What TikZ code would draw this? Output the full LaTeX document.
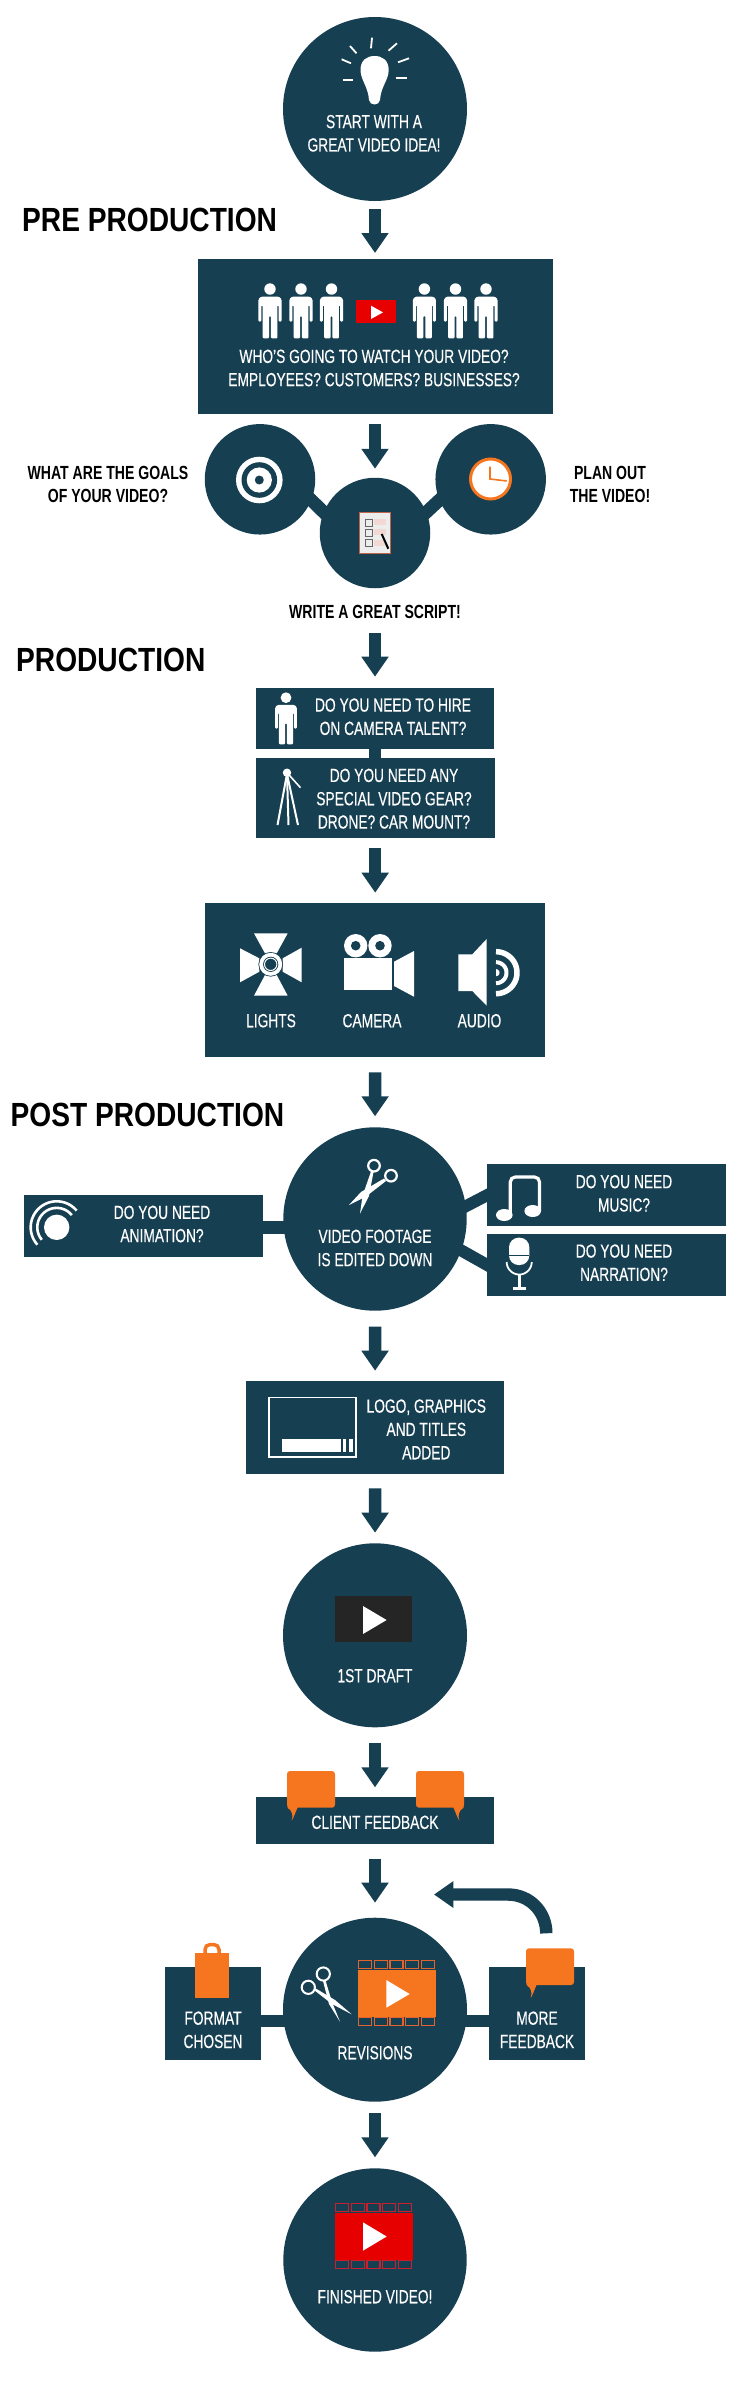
\documentclass[tikz,border=0pt]{standalone}
\usepackage{fontspec}
\setmainfont{Liberation Sans}[FakeStretch=0.725,FakeBold=0.3]
\newfontfamily\labelfont{Liberation Sans}[FakeStretch=0.74]
\newfontfamily\headfont{Liberation Sans}[FakeStretch=0.84]
\usetikzlibrary{arrows.meta}
\definecolor{navy}{HTML}{163F52}
\definecolor{orng}{HTML}{F6761F}
\definecolor{vred}{HTML}{E60000}
\definecolor{dred}{HTML}{C8202E}
\definecolor{dorg}{HTML}{E2642C}
\definecolor{paper}{HTML}{EDEDED}
\definecolor{rust}{HTML}{C0654A}
\definecolor{pinkl}{HTML}{F3D9D4}
\definecolor{coal}{HTML}{252525}
\tikzset{
  x=1pt,y=-1pt,
  disc/.style={circle,fill=navy,draw=none,inner sep=0pt,outer sep=0pt,minimum size=#1},
  boxn/.style={rectangle,fill=navy,draw=none,inner sep=0pt,outer sep=0pt},
  wtext/.style={text=white,inner sep=0pt,align=center,font=\fontsize{19}{23.3}\selectfont},
  btext/.style={text=black,inner sep=0pt,align=center,font=\labelfont\bfseries\fontsize{19}{23.3}\selectfont},
  heading/.style={text=black,inner sep=0pt,anchor=west,font=\headfont\bfseries\fontsize{33.5}{36}\selectfont},
  bigarrow/.style={draw=navy,line width=12.5pt,-{Triangle[width=26pt,length=20pt,fill=navy]}},
  conn/.style={draw=navy,line width=13pt},
}
\newcommand{\person}[3]{\begin{scope}[shift={(#1,#2)},scale=#3]
  \fill[white] (0,5.8) circle[radius=5.8];
  \fill[white,rounded corners=1.2pt] (-9,13.5) -- (9,13.5) -- (11.7,16) -- (11.7,39) -- (8.7,39) -- (8.7,22) -- (7.6,22) -- (7.6,56) -- (1,56) -- (1,33) -- (-1,33) -- (-1,56) -- (-7.6,56) -- (-7.6,22) -- (-8.7,22) -- (-8.7,39) -- (-11.7,39) -- (-11.7,16) -- cycle;
\end{scope}}
\newcommand{\bubble}[3]{\begin{scope}[shift={(#1,#2)},xscale=#3]
  \fill[orng,rounded corners=3pt] (0,0) rectangle (48,36.7);
  \fill[orng] (0.5,33) -- (11.5,33) -- (10.5,36.7) .. controls (8.5,41) and (7,46) .. (4.7,49.7) .. controls (6,45) and (6,40) .. (0.5,36.7) -- cycle;
\end{scope}}
\newcommand{\film}[4]{\begin{scope}[shift={(#1,#2)}]
  \fill[#3] (0,9.6) rectangle (77.7,56.2);
  \foreach \i in {0,1,2,3,4}{
    \draw[#4,line width=1.1pt] ({0.6+\i*15.7},0.6) rectangle ({13.6+\i*15.7},8.4);
    \draw[#4,line width=1.1pt] ({0.6+\i*15.7},57.4) rectangle ({13.6+\i*15.7},65.2);
  }
\end{scope}}
\newcommand{\arcp}[5]{plot[domain=#4:#5,samples=40,smooth] ({#1+#3*cos(\x)},{#2+#3*sin(\x)})}
\begin{document}
\begin{tikzpicture}
\fill[white] (0,0) rectangle (750,2390);
\useasboundingbox (0,0) rectangle (750,2390);

% ---- main shapes
\node[disc=184pt] (start) at (375,109) {};
\node[boxn,minimum width=355pt,minimum height=154.4pt] (pre) at (375,336.5) {};
\node[disc=110.5pt] (goal) at (260,479.3) {};
\node[disc=110.5pt] (plan) at (490.7,479.3) {};
\node[disc=110.5pt] (write) at (375,533) {};
\node[boxn,minimum width=238.5pt,minimum height=61pt] (hire) at (375,718.8) {};
\node[boxn,minimum width=238.5pt,minimum height=80pt] (gear) at (375.7,798.3) {};
\node[boxn,minimum width=340.5pt,minimum height=154pt] (kit) at (375.2,980.3) {};
\node[disc=183.4pt] (edit) at (375,1219) {};
\node[boxn,minimum width=239pt,minimum height=61.7pt] (anim) at (143.5,1226.2) {};
\node[boxn,minimum width=239pt,minimum height=61.7pt] (music) at (606.5,1195.2) {};
\node[boxn,minimum width=239pt,minimum height=61.7pt] (narr) at (606.5,1264.9) {};
\node[boxn,minimum width=257.4pt,minimum height=92.4pt] (logo) at (375.1,1427.5) {};
\node[disc=184pt] (draft) at (375,1635.3) {};
\node[boxn,minimum width=238.6pt,minimum height=46.4pt] (client) at (375,1820.5) {};
\node[disc=184pt] (rev) at (375,2009.7) {};
\node[boxn,minimum width=95.4pt,minimum height=92.7pt] (fmt) at (213,2013.4) {};
\node[boxn,minimum width=95.4pt,minimum height=92.7pt] (more) at (537,2013.4) {};
\node[disc=183.4pt] (final) at (375,2260) {};

% ---- text
\node[wtext] (tstart) at (374,133.3) {START WITH A\\GREAT VIDEO IDEA!};
\node[heading] (hpre) at (22,220) {PRE PRODUCTION};
\node[wtext] (tpre) at (374,368) {WHO'S GOING TO WATCH YOUR VIDEO?\\EMPLOYEES? CUSTOMERS? BUSINESSES?};
\node[btext] (tgoal) at (108,484.8) {WHAT ARE THE GOALS\\OF YOUR VIDEO?};
\node[btext] (tplan) at (610,484.8) {PLAN OUT\\THE VIDEO!};
\node[btext,minimum height=24pt] (tscript) at (375,612) {WRITE A GREAT SCRIPT!};
\node[heading] (hprod) at (16,659.5) {PRODUCTION};
\node[wtext] (thire) at (393,716.7) {DO YOU NEED TO HIRE\\ON CAMERA TALENT?};
\node[wtext] (tgear) at (394,798.7) {DO YOU NEED ANY\\SPECIAL VIDEO GEAR?\\DRONE? CAR MOUNT?};
\node[wtext] (tlights) at (271,1020.7) {LIGHTS};
\node[wtext] (tcamera) at (372,1020.7) {CAMERA};
\node[wtext] (taudio) at (479.5,1020.7) {AUDIO};
\node[heading] (hpost) at (10.5,1114.5) {POST PRODUCTION};
\node[wtext] (tedit) at (375,1248) {VIDEO FOOTAGE\\IS EDITED DOWN};
\node[wtext] (tanim) at (162,1224) {DO YOU NEED\\ANIMATION?};
\node[wtext] (tmusic) at (624,1193.3) {DO YOU NEED\\MUSIC?};
\node[wtext] (tnarr) at (624,1262.7) {DO YOU NEED\\NARRATION?};
\node[wtext] (tlogo) at (426.3,1429.3) {LOGO, GRAPHICS\\AND TITLES\\ADDED};
\node[wtext] (tdraft) at (375,1675.7) {1ST DRAFT};
\node[wtext] (tclient) at (375,1822.3) {CLIENT FEEDBACK};
\node[wtext] (tfmt) at (213,2029.8) {FORMAT\\CHOSEN};
\node[wtext] (tmore) at (537,2029.8) {MORE\\FEEDBACK};
\node[wtext] (trev) at (375,2052.7) {REVISIONS};
\node[wtext] (tfinal) at (375,2296.7) {FINISHED VIDEO!};

% ---- connectors
\draw[bigarrow,shorten <=8pt,shorten >=6.3pt] (start.south) -- (pre.north);
\draw[bigarrow,shorten <=10.6pt,shorten >=9pt] (pre.south) -- (write.north);
\draw[bigarrow,shorten <=8.7pt,shorten >=11.6pt] (tscript.south) -- (hire.north);
\draw[bigarrow,shorten <=10pt,shorten >=10.6pt] (gear.south -| kit.north) -- (kit.north);
\draw[bigarrow,shorten <=15pt,shorten >=11pt] (kit.south) -- (edit.north);
\draw[bigarrow,shorten <=16pt,shorten >=10.6pt] (edit.south) -- (logo.north);
\draw[bigarrow,shorten <=14.6pt,shorten >=10.6pt] (logo.south) -- (draft.north);
\draw[bigarrow,shorten <=15.4pt,shorten >=10pt] (draft.south) -- (client.north);
\draw[bigarrow,shorten <=15pt,shorten >=15pt] (client.south) -- (rev.north);
\draw[bigarrow,shorten <=11.3pt,shorten >=11pt] (rev.south) -- (final.north);
\coordinate (fbstart) at (546.3,1933.3);
\coordinate (fbend) at (434,1894.5);
\draw[draw=navy,line width=12.4pt,-{Triangle[width=25.4pt,length=19.3pt,fill=navy]}] (fbstart) .. controls (546.3,1912) and (530,1894.5) .. (508,1894.5) -- (fbend);
\draw[conn,shorten <=-6pt,shorten >=-6pt] (goal.-22) -- (write.158);
\draw[conn,shorten <=-6pt,shorten >=-6pt] (plan.202) -- (write.22);
\draw[draw=navy,line width=12.5pt] (hire.south) -- (hire.south |- gear.north);
\draw[conn,shorten <=-4pt] (edit.185) -- (edit.185 -| anim.east);
\draw[conn,line width=12pt,shorten <=-4pt,shorten >=-4pt] (edit.8) -- (music.west);
\draw[conn,line width=12pt,shorten <=-4pt,shorten >=-4pt] (edit.-20) -- (narr.west);
\draw[conn,line width=12.6pt,shorten <=-4pt] (rev.187) -- (rev.187 -| fmt.east);
\draw[conn,line width=12.6pt,shorten <=-4pt] (rev.-7) -- (rev.-7 -| more.west);

% ---- bulb
\fill[white] (360.5,70) .. controls (360.5,60) and (367,56) .. (374.6,56) .. controls (382,56) and (388.7,60) .. (388.7,70) .. controls (388.7,80) and (381,86) .. (380,100) .. controls (379.8,103) and (377,104.5) .. (374.6,104.5) .. controls (372,104.5) and (369.3,103) .. (369,100) .. controls (368,86) and (360.5,80) .. (360.5,70) -- cycle;
\foreach \a/\b/\c/\d in {372/37.7/371/48.3, 388.5/50.7/397/43.3, 398/62.3/409/58.3, 396/77.7/406.7/77.7, 343/80/353/80, 351/63.3/341.6/59.3, 356.5/53.3/350/46}
  \draw[white,line width=1.8pt] (\a,\b) -- (\c,\d);

% ---- audience
\foreach \p in {270,301,331.5,424.4,455.5,486} \person{\p}{283.3}{0.985}
\fill[vred] (356,300) rectangle (396,323.3);
\fill[white] (371,305.7) -- (383,312.4) -- (371,319) -- cycle;

% ---- target
\fill[white] (259.3,480) circle[radius=23.3];
\fill[navy] (259.3,480) circle[radius=17.8];
\fill[white] (259.3,480) circle[radius=12.6];
\fill[navy] (259.3,480) circle[radius=4.5];
% ---- clock
\filldraw[fill=white,draw=orng,line width=3pt] (490.5,479) circle[radius=20];
\draw[orng,line width=1.6pt] (490,466.7) -- (490,479) -- (506.7,481);
% ---- checklist
\filldraw[fill=paper,draw=rust,line width=1pt] (359.8,512) rectangle (390.4,553.7);
\foreach \yy in {519.3,529.3,539.5}{
  \fill[pinkl] (374,\yy) rectangle (386,{\yy+6});
  \draw[gray!80!black,line width=0.8pt] (365.3,\yy) rectangle (372.7,{\yy+7});
}
\draw[black,line width=2pt] (381.7,534) -- (388.3,548.7);

% ---- talent + tripod
\person{286}{692.3}{0.93}
\fill[white] (287,772.7) circle[radius=4.2];
\foreach \t in {277.5,288.5,298} \draw[white,line width=2pt] (287,774) -- (\t,825);
\draw[white,line width=1.6pt] (287,772.7) -- (300.5,787.7);

% ---- lights
\fill[white] (254,933.3) -- (287.7,933.3) -- (276.7,953.3) -- (265,953.3) -- cycle;
\fill[white] (265,975) -- (276.7,975) -- (287.7,995.7) -- (254,995.7) -- cycle;
\fill[white] (240,948.3) -- (259.3,958.3) -- (259.3,971.7) -- (240,982.3) -- cycle;
\fill[white] (301.7,947.7) -- (282.7,958.3) -- (282.7,971.7) -- (301.7,982.3) -- cycle;
\fill[navy] (270.7,964.3) circle[radius=12.3];
\fill[white] (270.7,964.3) circle[radius=11.5];
\fill[navy] (270.7,964.3) circle[radius=7.6];
\draw[white,line width=1pt] (270.7,964.3) circle[radius=6.2];
% ---- camera
\foreach \e in {355.7,380}{
  \fill[white] (\e,945.7) circle[radius=11.7];
  \fill[navy] (\e,945.7) circle[radius=4.8];
}
\fill[white] (344,957.7) rectangle (391.7,990);
\fill[white] (394,961.7) -- (414,951) -- (414,996.7) -- (394,986) -- cycle;
% ---- speaker
\fill[white] (458.3,954.3) -- (472.3,954.3) -- (486.7,939) -- (486.7,1005.7) -- (472.3,991) -- (458.3,991) -- cycle;
\draw[white,line width=5.5pt] \arcp{496}{972.7}{21}{-90}{90};
\draw[white,line width=4pt] \arcp{496}{972.7}{10.5}{-90}{90};
\fill[white] \arcp{496}{972.7}{3.5}{-90}{90} -- cycle;

% ---- animation
\fill[white] (56.7,1227.3) circle[radius=12.7];
\draw[white,line width=2.6pt] \arcp{56.7}{1227.3}{19.4}{-39}{-220};
\draw[white,line width=2.6pt] \arcp{56.7}{1227.3}{26}{-40}{-222};

% ---- scissors (edit)
\draw[white,line width=2.2pt] (374,1165.7) circle[radius=5.8];
\draw[white,line width=2.2pt] (391,1175.7) circle[radius=5.8];
\fill[white] (371,1171.5) -- (373.5,1172) -- (369,1196) -- (360,1213.5) -- (362.5,1196) -- cycle;
\fill[white] (384,1178.5) -- (386,1181) -- (366,1196.5) -- (349,1205) -- (361,1192) -- cycle;

% ---- music
\fill[white] (504.3,1215) ellipse[x radius=8.3,y radius=6];
\fill[white] (532.7,1211) ellipse[x radius=8.3,y radius=6];
\draw[white,line width=3.2pt,rounded corners=5pt] (510.3,1213) -- (510.3,1177) -- (539.5,1177) -- (539.5,1211);
% ---- mic
\fill[white,rounded corners=9.5pt] (509,1237.7) rectangle (529.3,1265);
\draw[navy,line width=0.8pt] (509,1255.7) -- (529.3,1255.7);
\draw[white,line width=1.8pt] \arcp{519.2}{1262}{12.5}{0}{180};
\draw[white,line width=3.4pt] (519.3,1274) -- (519.3,1288.3);
\fill[white] (513.3,1287) rectangle (526,1290);

% ---- logo screen
\draw[white,line width=1.5pt] (269.2,1397.4) rectangle (355.8,1457);
\fill[white] (282,1439) rectangle (340.7,1451.7);
\fill[white] (342.6,1439) rectangle (346.4,1451.7);
\fill[white] (349.3,1439) rectangle (353,1451.7);

% ---- draft player
\fill[coal] (335,1596) rectangle (412,1642.3);
\fill[white] (363,1606) -- (386.6,1620) -- (363,1634) -- cycle;

% ---- feedback bubbles
\bubble{287}{1771}{1}
\bubble{464}{1771}{-1}
\bubble{526}{1948.3}{1}

% ---- bag
\draw[orng,line width=3.5pt,rounded corners=5pt] (205,1955) -- (205,1944.5) -- (219,1944.5) -- (219,1955);
\fill[orng] (194.7,1953.3) rectangle (229.3,1998.3);

% ---- revisions
\draw[white,line width=2pt] (323.3,1974) circle[radius=6.6];
\draw[white,line width=2pt] (308.3,1987.3) circle[radius=6.6];
\fill[white] (323,1981) -- (325.5,1980.5) -- (332,2002) -- (340,2021.7) -- (329,2004) -- cycle;
\fill[white] (314,1990) -- (315,1988) -- (335,2000) -- (351.7,2014.3) -- (332,2004) -- cycle;
\film{358}{1960.3}{orng}{dorg}
\fill[white] (386.3,1980) -- (409.7,1994) -- (386.3,2007.7) -- cycle;

% ---- finished
\film{335}{2203.3}{vred}{dred}
\fill[white] (363,2222.3) -- (386.7,2236.5) -- (363,2250.7) -- cycle;
\end{tikzpicture}
\end{document}
